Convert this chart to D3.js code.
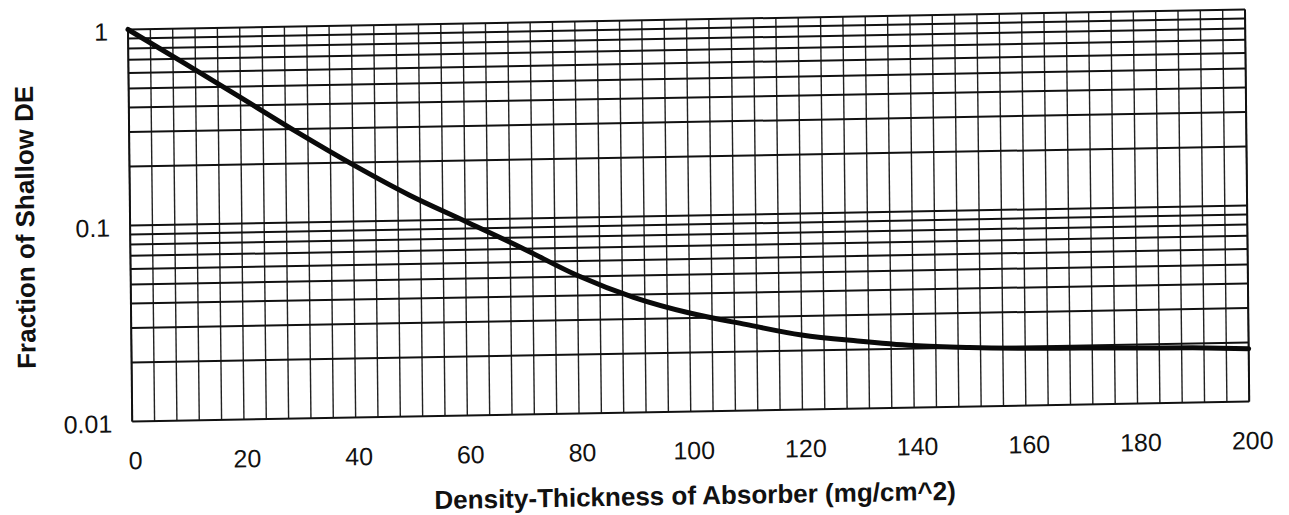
<!DOCTYPE html>
<html>
<head>
<meta charset="utf-8">
<script src="https://cdn.jsdelivr.net/npm/d3@7"></script>
<style>
  body { margin: 0; background: #fff; }
  text { font-family: "Liberation Sans", Arial, sans-serif; fill: #111; }
</style>
</head>
<body>
<div id="chart"></div>
<script>
// data
var thickness = [0, 10, 20, 30, 40, 50, 60, 70, 80, 90, 100, 110, 120, 130, 140, 150, 160, 170, 180, 190, 200];
var fraction = [1.0, 0.665, 0.44, 0.29, 0.195, 0.135, 0.098, 0.071, 0.0506, 0.0387, 0.0318, 0.0275, 0.024, 0.0221, 0.0207, 0.0200, 0.0196, 0.0194, 0.0192, 0.019, 0.0186];
var xTicks = [0, 20, 40, 60, 80, 100, 120, 140, 160, 180, 200];
var yTicks = [1, 0.1, 0.01];
var yTickLabels = ["1", "0.1", "0.01"];
var xGrid = d3.range(0, 201, 4);
var yGrid = [1, 0.9, 0.8, 0.7, 0.6, 0.5, 0.4, 0.3, 0.2, 0.1, 0.09, 0.08, 0.07, 0.06, 0.05, 0.04, 0.03, 0.02, 0.01];

// plot size
var width = 1117,
    height = 392;

var x = d3.scaleLinear().domain([0, 200]).range([0, width]);
var y = d3.scaleLog().domain([0.01, 1]).range([height, 0]);

var svg = d3.select("#chart").append("svg")
    .attr("width", 1289)
    .attr("height", 515);

// the scan is a little tilted, so the whole chart sits in a skewed group
var g = svg.append("g")
    .attr("transform", "matrix(1,-0.0179,0.0108,1,128,29.5)");

// vertical grid
g.selectAll(".vgrid")
    .data(xGrid)
    .enter().append("line")
    .attr("class", "vgrid")
    .attr("x1", function (d) { return x(d); })
    .attr("x2", function (d) { return x(d); })
    .attr("y1", 0)
    .attr("y2", height)
    .attr("stroke", "#222")
    .attr("stroke-width", 1.4);

// horizontal grid
g.selectAll(".hgrid")
    .data(yGrid)
    .enter().append("line")
    .attr("class", "hgrid")
    .attr("x1", 0)
    .attr("x2", width)
    .attr("y1", function (d) { return y(d); })
    .attr("y2", function (d) { return y(d); })
    .attr("stroke", "#111")
    .attr("stroke-width", 2);

// frame sides
g.append("line").attr("x1", 0).attr("x2", 0).attr("y1", 0).attr("y2", height)
    .attr("stroke", "#111").attr("stroke-width", 2);
g.append("line").attr("x1", width).attr("x2", width).attr("y1", 0).attr("y2", height)
    .attr("stroke", "#111").attr("stroke-width", 2);

// the curve
var line = d3.line()
    .x(function (d, i) { return x(thickness[i]); })
    .y(function (d) { return y(d); })
    .curve(d3.curveMonotoneX);

g.append("path")
    .datum(fraction)
    .attr("d", line)
    .attr("fill", "none")
    .attr("stroke", "#0a0a0a")
    .attr("stroke-width", 5)
    .attr("stroke-linecap", "round");

// x tick labels
g.selectAll(".xlab")
    .data(xTicks)
    .enter().append("text")
    .attr("class", "xlab")
    .attr("x", function (d) { return x(d) + 3; })
    .attr("y", height + 39)
    .attr("dy", "0.35em")
    .attr("text-anchor", "middle")
    .style("font-size", "25px")
    .text(function (d) { return d; });

// y tick labels
g.selectAll(".ylab")
    .data(yTicks)
    .enter().append("text")
    .attr("class", "ylab")
    .attr("x", -20)
    .attr("y", function (d) { return y(d) + 2; })
    .attr("dy", "0.35em")
    .attr("text-anchor", "end")
    .style("font-size", "25px")
    .text(function (d, i) { return yTickLabels[i]; });

// axis titles
g.append("text")
    .attr("x", 562)
    .attr("y", height + 93)
    .attr("text-anchor", "middle")
    .style("font-size", "26px")
    .style("font-weight", "bold")
    .text("Density-Thickness of Absorber (mg/cm^2)");

g.append("text")
    .attr("transform", "translate(-105," + (height / 2) + ") rotate(-90)")
    .attr("dy", "0.35em")
    .attr("text-anchor", "middle")
    .style("font-size", "26px")
    .style("font-weight", "bold")
    .text("Fraction of Shallow DE");
</script>
</body>
</html>
